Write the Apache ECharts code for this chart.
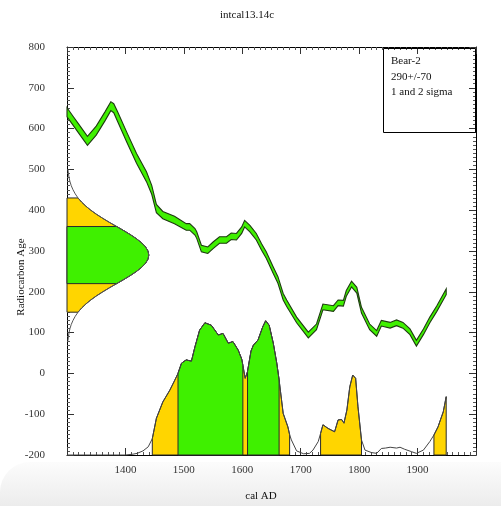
<!DOCTYPE html>
<html>
<head>
<meta charset="utf-8">
<script src="https://cdn.jsdelivr.net/npm/echarts@6/dist/echarts.min.js"></script>
<style>html,body{margin:0;padding:0;background:#fff}#c{width:501px;height:506px}</style>
</head>
<body>
<div id="c"></div>
<script>
// ---- data ----
const xTickValues = [1400, 1500, 1600, 1700, 1800, 1900];
const yTickValues = [-200, -100, 0, 100, 200, 300, 400, 500, 600, 700, 800];

// calibration curve (cal AD, radiocarbon age, half band width)
const calYears = [1300,1310,1320,1335,1350,1365,1375,1380,1387,1402,1419,1436,1445,1453,1464,1484,1504,1510,1519,1522,1530,1541,1550,1561,1573,1581,1590,1599,1604,1613,1624,1633,1641,1653,1661,1670,1676,1693,1713,1727,1738,1756,1764,1773,1778,1787,1796,1804,1818,1830,1838,1853,1864,1875,1887,1898,1910,1921,1933,1949];
const calAge   = [640,620,600,570,595,630,655,650,628,580,527,482,450,404,388,376,359,359,347,339,306,302,314,327,327,336,335,351,367,355,335,310,290,253,229,188,172,131,94,114,163,159,173,172,196,219,204,155,114,98,123,118,124,118,102,74,102,131,159,200];
const calSigma = [11,11,11,11,11,11,11,11,12,12,12,12,11,10,9,9,8,8,8,8,8,8,8,8,8,8,8,8,8,8,8,8,8,8,8,8,8,7,7,7,7,7,7,7,7,7,7,7,7,7,7,7,7,7,7,7,7,7,7,7];

// measured date: 290 +/- 70 shown as a distribution along the age axis (width in years)
const gaussAges  = [80,90,100,110,120,130,140,150,160,170,180,190,200,210,220,230,240,250,260,270,280,290,300,310,320,330,340,350,360,370,380,390,400,410,420,430,440,450,460,470,480,490,500];
const gaussWidth = [1.6,2.4,3.5,5.1,7.3,10.3,14.1,18.9,24.9,32.2,40.7,50.4,61.3,72.8,85,97,108.5,118.9,127.7,134.4,138.6,140,138.6,134.4,127.7,118.9,108.5,97,85,72.8,61.3,50.4,40.7,32.2,24.9,18.9,14.1,10.3,7.3,5.1,3.5,2.4,1.6];
const gauss1Sigma = [220, 360];
const gauss2Sigma = [150, 430];

// calibrated probability (drawn in age-axis units above the -200 baseline)
const probYears  = [1300,1400,1413,1420,1430,1439,1446,1453,1464,1476,1484,1490,1496,1504,1513,1519,1527,1536,1547,1559,1567,1576,1584,1593,1599,1601,1605,1609,1615,1619,1627,1635,1640,1646,1653,1659,1663,1670,1678,1681,1684,1693,1705,1715,1721,1730,1734,1738,1747,1758,1764,1770,1774,1779,1784,1789,1794,1798,1804,1810,1821,1830,1838,1845,1853,1864,1870,1878,1890,1898,1910,1921,1928,1935,1944,1949];
const probValues = [-200,-200,-198,-196,-190,-180,-160,-110,-70,-41,-18,0,25,33,30,65,106,124,118,94,98,74,78,57,35,20,-12,5,55,69,82,114,129,118,74,25,-16,-98,-131,-150,-163,-190,-197,-196,-188,-167,-147,-126,-135,-143,-114,-113,-122,-90,-33,-4,-12,-82,-163,-188,-194,-196,-184,-183,-181,-183,-181,-186,-192,-196,-188,-167,-151,-131,-94,-57];
const ranges2Sigma = [[1446,1681],[1734,1804],[1928,1949]];
const ranges1Sigma = [[1490,1601],[1609,1663]];

const legendLines = ['Bear-2', '290+/-70', '1 and 2 sigma'];

// ---- chart ----
const GREEN = '#3ff000', YELLOW = '#ffd500', EDGE = '#2a2a2a';
const FONT = '"Liberation Serif", "DejaVu Serif", serif';
const chart = echarts.init(document.getElementById('c'), null, {renderer: 'canvas'});

function renderAll(params, api) {
  const c = (x, y) => api.coord([x, y]);
  const children = [];
  const base = -200, x0 = 1300;
  function gaussPoly(lo, hi, fill) {
    const pts = [c(x0, lo)];
    for (let i = 0; i < gaussAges.length; i++) {
      if (gaussAges[i] >= lo && gaussAges[i] <= hi) pts.push(c(x0 + gaussWidth[i], gaussAges[i]));
    }
    pts.push(c(x0, hi));
    return {type: 'polygon', shape: {points: pts}, style: {fill: fill, stroke: EDGE, lineWidth: 1}};
  }
  children.push(gaussPoly(gauss2Sigma[0], gauss2Sigma[1], YELLOW));
  children.push(gaussPoly(gauss1Sigma[0], gauss1Sigma[1], GREEN));
  children.push({type: 'polyline', shape: {points: gaussAges.map((a, i) => c(x0 + gaussWidth[i], a))},
    style: {fill: null, stroke: '#555', lineWidth: 1}});
  function probPoly(a, b, fill) {
    const pts = [c(a, base)];
    for (let i = 0; i < probYears.length; i++) {
      if (probYears[i] >= a && probYears[i] <= b) pts.push(c(probYears[i], probValues[i]));
    }
    pts.push(c(b, base));
    return {type: 'polygon', shape: {points: pts}, style: {fill: fill, stroke: EDGE, lineWidth: 1}};
  }
  ranges2Sigma.forEach(r => children.push(probPoly(r[0], r[1], YELLOW)));
  ranges1Sigma.forEach(r => children.push(probPoly(r[0], r[1], GREEN)));
  children.push({type: 'polyline', shape: {points: probYears.map((y, i) => c(y, probValues[i]))},
    style: {fill: null, stroke: '#444', lineWidth: 1}});
  const upper = calYears.map((y, i) => c(y, calAge[i] + calSigma[i]));
  const lower = calYears.map((y, i) => c(y, calAge[i] - calSigma[i])).reverse();
  children.push({type: 'polygon', shape: {points: upper.concat(lower)},
    style: {fill: GREEN, stroke: '#1e3a10', lineWidth: 1.1}});
  return {type: 'group', children: children};
}

function axisCommon() {
  return {
    type: 'value', interval: 100,
    axisLine: {show: true, onZero: false, lineStyle: {color: '#000', width: 1}},
    axisTick: {show: true, inside: true, length: 7, lineStyle: {color: '#333'}},
    minorTick: {show: true, splitNumber: 10, length: 3, lineStyle: {color: '#555'}},
    splitLine: {show: false}, minorSplitLine: {show: false}
  };
}

const option = {
  animation: false,
  backgroundColor: '#fff',
  grid: {left: 67, top: 47, right: 25, bottom: 51, containLabel: false, outerBoundsMode: 'none'},
  xAxis: [
    Object.assign(axisCommon(), {min: 1300, max: 2000, position: 'bottom',
      axisLabel: {show: true, margin: 10, fontFamily: FONT, fontSize: 11, color: '#333',
        formatter: v => xTickValues.indexOf(v) >= 0 ? String(v) : ''}}),
    Object.assign(axisCommon(), {min: 1300, max: 2000, position: 'top', axisLabel: {show: false}})
  ],
  yAxis: [
    Object.assign(axisCommon(), {min: -200, max: 800, position: 'left',
      axisLabel: {show: true, margin: 22, fontFamily: FONT, fontSize: 11, color: '#333',
        formatter: v => yTickValues.indexOf(v) >= 0 ? String(v) : ''}}),
    Object.assign(axisCommon(), {min: -200, max: 800, position: 'right', axisLabel: {show: false}})
  ],
  series: [{
    type: 'custom', coordinateSystem: 'cartesian2d', xAxisIndex: 0, yAxisIndex: 0,
    silent: true, clip: false, data: [[1300, -200]], renderItem: renderAll, z: 2
  }],
  graphic: [
    {type: 'rect', left: 0, top: 462, z: -10, silent: true,
      shape: {width: 501, height: 44, r: [30, 0, 0, 0]},
      style: {fill: new echarts.graphic.LinearGradient(0, 0, 0, 1, [
        {offset: 0, color: '#fcfcfc'}, {offset: 1, color: '#ececec'}])}},
    {type: 'text', x: 247, y: 15, z: 10, style: {text: 'intcal13.14c', font: '11px ' + FONT,
      fill: '#111', textAlign: 'center', textVerticalAlign: 'middle'}},
    {type: 'text', x: 261, y: 496, z: 10, style: {text: 'cal AD', font: '11px ' + FONT,
      fill: '#111', textAlign: 'center', textVerticalAlign: 'middle'}},
    {type: 'text', x: 21, y: 277, rotation: Math.PI / 2, z: 10,
      style: {text: 'Radiocarbon Age', font: '11px ' + FONT, fill: '#111',
        textAlign: 'center', textVerticalAlign: 'middle'}},
    {type: 'rect', z: 10, silent: true, shape: {x: 383.5, y: 48.5, width: 92, height: 84},
      style: {fill: 'rgba(255,255,255,0)', stroke: '#000', lineWidth: 1}},
    {type: 'text', x: 391, y: 61, z: 10, style: {text: legendLines[0], font: '11px ' + FONT, fill: '#111', textVerticalAlign: 'middle'}},
    {type: 'text', x: 391, y: 77, z: 10, style: {text: legendLines[1], font: '11px ' + FONT, fill: '#111', textVerticalAlign: 'middle'}},
    {type: 'text', x: 391, y: 92, z: 10, style: {text: legendLines[2], font: '11px ' + FONT, fill: '#111', textVerticalAlign: 'middle'}}
  ]
};
chart.setOption(option);
</script>
</body>
</html>
